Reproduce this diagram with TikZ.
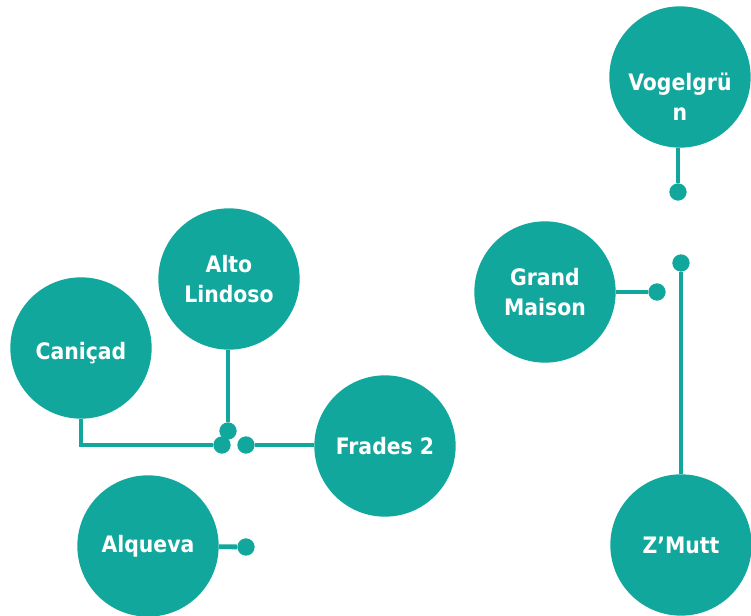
\documentclass[tikz,border=0pt]{standalone}
\usepackage{fontspec}
\setmainfont{DejaVu Sans Condensed}
\usepackage{tikz}
\definecolor{stationteal}{RGB}{18,167,157}

\begin{document}
\begin{tikzpicture}[x=0.75pt, y=-0.75pt]
		\tikzset{station/.style={circle, fill=stationteal, inner sep=0, minimum size=106pt, text=white, align=center, font=\bfseries\fontsize{17}{22.5}\selectfont}}
		\tikzset{stationtext/.style={text=white, align=center, font=\bfseries\fontsize{17}{22.5}\selectfont}}
		\tikzset{joint/.style={circle, fill=stationteal, inner sep=0, minimum size=13pt}}
		\tikzset{link/.style={draw=stationteal, line width=3.6pt}}
		\useasboundingbox (0,0) rectangle (751,616);
		\node[station] at (680, 77) (vogel) {};
		\node[stationtext] at (680, 97) (vogeltext) {Vogelgrü\\n};
		\node[station] at (545, 292) (grand) {Grand\\Maison};
		\node[station] at (681, 545) (zmutt) {Z’Mutt};
		\node[station] at (229, 279) (alto) {Alto\\Lindoso};
		\node[station] at (81, 348) (canicad) {};
		\node[stationtext] at (81, 353) (canicadtext) {Caniçad};
		\node[station] at (385, 446) (frades) {Frades 2};
		\node[station] at (148, 546) (alqueva) {Alqueva};
		\node[joint] at (678, 192) (d1) {};
		\node[joint] at (657, 292) (d2) {};
		\node[joint] at (681, 263) (d3) {};
		\node[joint] at (228, 431) (d4) {};
		\node[joint] at (222, 445) (d5) {};
		\node[joint] at (246, 445) (d6) {};
		\node[joint] at (246, 547) (d7) {};
		\draw[link] (vogel.south -| d1) -- (d1);
		\draw[link] (grand) -- (d2);
		\draw[link] (d3) -- (zmutt);
		\draw[link] (alto.south -| d4) -- (d4);
		\draw[link] (canicad) |- (d5);
		\draw[link] (d6) -- (frades.west |- d6);
		\draw[link] (alqueva) -- (d7);
	\end{tikzpicture}
\end{document}
